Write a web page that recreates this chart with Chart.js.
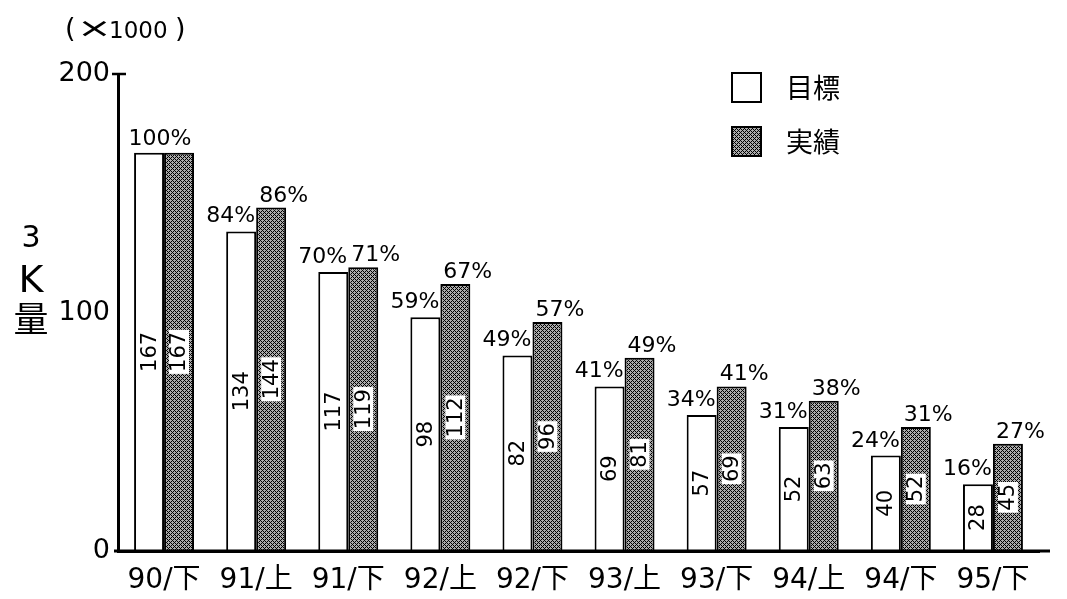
<!DOCTYPE html>
<html>
<head>
<meta charset="utf-8">
<script src="https://cdn.jsdelivr.net/npm/chart.js@4/dist/chart.umd.min.js"></script>
<style>
  html, body { margin: 0; padding: 0; background: #fff; }
  #wrap { width: 1067px; height: 599px; position: relative; }
</style>
</head>
<body>
<div id="wrap"><canvas id="c" width="1067" height="599"></canvas></div>
<script>
// Half-year periods and 3K volumes (thousands)
const periods = ['90/下', '91/上', '91/下', '92/上', '92/下', '93/上', '93/下', '94/上', '94/下', '95/下'];
const targetValues = [167, 134, 117, 98, 82, 69, 57, 52, 40, 28];
const actualValues = [167, 144, 119, 112, 96, 81, 69, 63, 52, 45];
// Percentages printed above each bar
const targetRates = [100, 84, 70, 59, 49, 41, 34, 31, 24, 16];
const actualRates = [100, 86, 71, 67, 57, 49, 41, 38, 31, 27];
const yTicks = [0, 100, 200];
const seriesNames = ['目標', '実績'];
const axisTitle = ['3', 'K', '量'];

const FONT = "'DejaVu Sans', 'Noto Sans CJK JP', sans-serif";
const CJK = "'Noto Sans CJK JP', sans-serif";

const canvas = document.getElementById('c');
const ctx = canvas.getContext('2d');

// Fine diagonal mesh used for the 実績 bars
function meshPattern() {
  const t = document.createElement('canvas');
  t.width = 4; t.height = 4;
  const g = t.getContext('2d');
  g.fillStyle = '#ababab';
  g.fillRect(0, 0, 4, 4);
  g.fillStyle = '#000';
  [[0, 0], [1, 1], [2, 2], [3, 3], [1, 3], [3, 1]].forEach(([x, y]) => g.fillRect(x, y, 1, 1));
  return ctx.createPattern(t, 'repeat');
}
const mesh = meshPattern();

const annotations = {
  id: 'annotations',
  afterDatasetsDraw(chart) {
    const { ctx, chartArea: a, scales: { y } } = chart;
    const tEls = chart.getDatasetMeta(0).data;
    const aEls = chart.getDatasetMeta(1).data;
    ctx.save();

    // baseline drawn over the bar feet, plus the top tick
    ctx.strokeStyle = '#000';
    ctx.lineWidth = 3;
    ctx.beginPath();
    ctx.moveTo(a.left - 4, a.bottom);
    ctx.lineTo(1050, a.bottom);
    ctx.stroke();
    const yt = y.getPixelForValue(200);
    ctx.lineWidth = 2.5;
    ctx.beginPath();
    ctx.moveTo(a.left - 6, yt);
    ctx.lineTo(a.left + 8, yt);
    ctx.stroke();

    // rotated values inside the bars
    ctx.font = `21px ${FONT}`;
    ctx.textAlign = 'center';
    ctx.textBaseline = 'middle';
    [[tEls, targetValues, false], [aEls, actualValues, true]].forEach(([els, vals, boxed]) => {
      els.forEach((el, i) => {
        const cy = (el.y + el.base) / 2;
        const txt = String(vals[i]);
        ctx.save();
        ctx.translate(el.x, cy);
        ctx.rotate(-Math.PI / 2);
        const w = ctx.measureText(txt).width;
        if (boxed) {
          ctx.fillStyle = '#fff';
          ctx.fillRect(-w / 2 - 2, -10, w + 4, 20);
        }
        ctx.fillStyle = '#000';
        ctx.fillText(txt, 0, 1);
        ctx.restore();
      });
    });

    // percentages above the bars
    ctx.font = `22px ${FONT}`;
    ctx.textBaseline = 'alphabetic';
    ctx.fillStyle = '#000';
    periods.forEach((p, i) => {
      const t = tEls[i], r = aEls[i];
      const edge = (t.x + t.width / 2 + r.x - r.width / 2) / 2;
      if (targetRates[i] === actualRates[i]) {
        ctx.textAlign = 'center';
        ctx.fillText(targetRates[i] + '%', edge - 4, Math.min(t.y, r.y) - 8);
      } else {
        ctx.textAlign = 'right';
        ctx.fillText(targetRates[i] + '%', edge - 1, t.y - 9);
        ctx.textAlign = 'left';
        ctx.fillText(actualRates[i] + '%', edge + 3, r.y - 6);
      }
    });

    // legend
    const rows = [72, 126];
    chart.data.datasets.forEach((ds, i) => {
      const top = rows[i];
      ctx.fillStyle = ds.backgroundColor;
      ctx.fillRect(731, top, 31, 31);
      ctx.strokeStyle = '#000';
      ctx.lineWidth = 2;
      ctx.strokeRect(732, top + 1, 29, 29);
      ctx.fillStyle = '#000';
      ctx.font = `27px ${CJK}`;
      ctx.textAlign = 'left';
      ctx.textBaseline = 'middle';
      ctx.fillText(ds.label, 786, top + 16);
    });

    // unit label
    ctx.fillStyle = '#000';
    ctx.textBaseline = 'alphabetic';
    ctx.textAlign = 'left';
    ctx.font = `27px ${FONT}`;
    ctx.fillText('(', 65, 37);
    ctx.fillText(')', 175, 37);
    ctx.font = `23px ${FONT}`;
    ctx.fillText('1000', 109, 38);
    ctx.save();
    ctx.translate(94.5, 30);
    ctx.scale(1.6, 1);
    ctx.textAlign = 'center';
    ctx.textBaseline = 'middle';
    ctx.font = `26px ${FONT}`;
    ctx.fillText('×', 0, 0);
    ctx.restore();

    // stacked vertical axis title
    ctx.textAlign = 'center';
    ctx.textBaseline = 'alphabetic';
    ctx.font = `30px ${FONT}`;
    ctx.fillText(axisTitle[0], 31, 247);
    ctx.font = `38px ${FONT}`;
    ctx.fillText(axisTitle[1], 31, 292);
    ctx.font = `35px ${CJK}`;
    ctx.fillText(axisTitle[2], 31, 332);

    ctx.restore();
  }
};

new Chart(ctx, {
  type: 'bar',
  data: {
    labels: periods,
    datasets: [
      { label: seriesNames[0], data: targetValues, backgroundColor: '#fff', borderColor: '#000', borderWidth: 2 },
      { label: seriesNames[1], data: actualValues, backgroundColor: mesh, borderColor: '#000', borderWidth: 2 }
    ]
  },
  options: {
    responsive: false,
    animation: false,
    devicePixelRatio: 1,
    layout: { padding: { left: 0, right: 28, top: 74, bottom: 0 } },
    datasets: { bar: { categoryPercentage: 0.651, barPercentage: 1 } },
    plugins: { legend: { display: false }, tooltip: { enabled: false } },
    scales: {
      x: {
        grid: { display: false, drawTicks: false },
        border: { display: true, color: '#000', width: 3 },
        ticks: { color: '#000', font: { size: 28, family: FONT }, padding: 13, maxRotation: 0, autoSkip: false },
        afterFit(s) { s.height = 48; }
      },
      y: {
        min: 0,
        max: 200,
        afterBuildTicks(s) { s.ticks = yTicks.map(v => ({ value: v })); },
        grid: { display: false, drawTicks: false },
        border: { display: true, color: '#000', width: 3 },
        ticks: { color: '#000', font: { size: 27, family: FONT }, padding: 8 },
        afterFit(s) { s.width = 118; }
      }
    }
  },
  plugins: [annotations]
});
</script>
</body>
</html>
